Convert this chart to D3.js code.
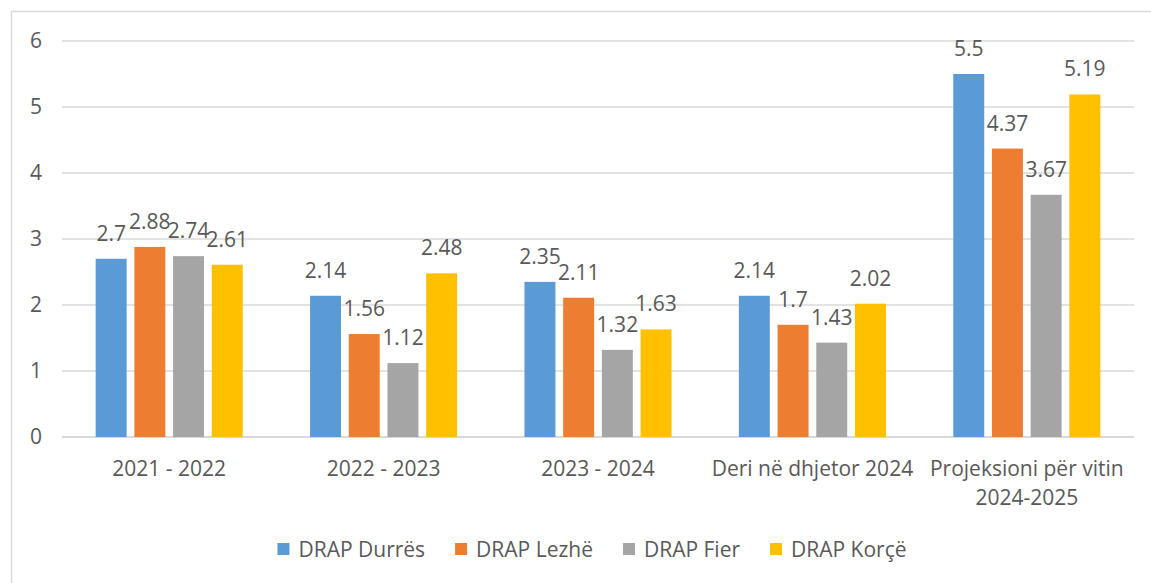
<!DOCTYPE html>
<html>
<head>
<meta charset="utf-8">
<script src="https://cdn.jsdelivr.net/npm/d3@7"></script>
<style>
  html, body { margin: 0; padding: 0; background: #fff; }
  svg text { font-family: "Open Sans", "Liberation Sans", sans-serif; fill: #595959; }
</style>
</head>
<body>
<div id="chart"></div>
<script>
// data
const categories = ["2021 - 2022", "2022 - 2023", "2023 - 2024", "Deri në dhjetor 2024", "Projeksioni për vitin 2024-2025"];
const series = ["DRAP Durrës", "DRAP Lezhë", "DRAP Fier", "DRAP Korçë"];
const durres = [2.7, 2.14, 2.35, 2.14, 5.5];
const lezhe = [2.88, 1.56, 2.11, 1.7, 4.37];
const fier = [2.74, 1.12, 1.32, 1.43, 3.67];
const korce = [2.61, 2.48, 1.63, 2.02, 5.19];
const yTicks = [0, 1, 2, 3, 4, 5, 6];
const colors = ["#5B9BD5", "#ED7D31", "#A5A5A5", "#FFC000"];

const values = [durres, lezhe, fier, korce];
const rows = categories.map((c, i) => ({
  category: c,
  values: series.map((s, j) => ({ key: s, value: values[j][i] }))
}));

// dimensions
const WIDTH = 1151;
const HEIGHT = 583;
const PLOT = { left: 62, right: 1134, top: 41, bottom: 437 };
const FONT = 21;

const $svg = d3.select("#chart").append("svg")
  .attr("width", WIDTH)
  .attr("height", HEIGHT);

// outer frame (only left/top visible in original)
$svg.append("rect")
  .attr("x", 11.5).attr("y", 11.5)
  .attr("width", WIDTH).attr("height", HEIGHT)
  .attr("fill", "none")
  .attr("stroke", "#d9d9d9")
  .attr("stroke-width", 1.5);

// scales
const x0 = d3.scaleBand().domain(categories).range([PLOT.left, PLOT.right]);
const span = x0.bandwidth() * 0.686;
const x1 = d3.scaleBand().domain(series).range([-span / 2, span / 2]).paddingInner(0.2);
const y = d3.scaleLinear().domain([0, 6]).range([PLOT.bottom, PLOT.top]);
const color = d3.scaleOrdinal().domain(series).range(colors);

// gridlines + y labels
const $grid = $svg.append("g").attr("class", "g-grid");
$grid.selectAll("line")
  .data(yTicks)
  .join("line")
  .attr("x1", PLOT.left).attr("x2", PLOT.right)
  .attr("y1", d => y(d)).attr("y2", d => y(d))
  .attr("stroke", "#d9d9d9")
  .attr("stroke-width", d => (d === 0 ? 2 : 1.5));

$grid.selectAll("text")
  .data(yTicks)
  .join("text")
  .attr("x", 42)
  .attr("y", d => y(d))
  .attr("dy", "0.35em")
  .attr("text-anchor", "end")
  .style("font-size", `${FONT}px`)
  .text(d => d);

// bars
const $groups = $svg.append("g").attr("class", "g-vis")
  .selectAll(".group")
  .data(rows)
  .join("g")
  .attr("class", "group")
  .attr("transform", d => `translate(${x0(d.category) + x0.bandwidth() / 2},0)`);

$groups.selectAll("rect")
  .data(d => d.values)
  .join("rect")
  .attr("x", d => x1(d.key))
  .attr("y", d => y(d.value))
  .attr("width", x1.bandwidth())
  .attr("height", d => y(0) - y(d.value))
  .attr("fill", d => color(d.key));

$groups.selectAll("text")
  .data(d => d.values)
  .join("text")
  .attr("x", d => x1(d.key) + x1.bandwidth() / 2)
  .attr("y", d => y(d.value) - 18)
  .attr("text-anchor", "middle")
  .style("font-size", `${FONT}px`)
  .text(d => d.value);

// category labels (wrapped to the band width)
const $xlab = $svg.append("g").attr("class", "g-axis");
categories.forEach(c => {
  const cx = x0(c) + x0.bandwidth() / 2;
  const $t = $xlab.append("text")
    .attr("x", cx)
    .attr("y", 476)
    .attr("text-anchor", "middle")
    .style("font-size", `${FONT}px`);
  const words = c.split(" ");
  let line = [];
  let $span = $t.append("tspan").attr("x", cx);
  words.forEach(w => {
    line.push(w);
    $span.text(line.join(" "));
    if ($span.node().getComputedTextLength() > x0.bandwidth() + 6 && line.length > 1) {
      line.pop();
      $span.text(line.join(" "));
      line = [w];
      $span = $t.append("tspan")
        .attr("x", cx)
        .attr("dy", 29)
        .text(w);
    }
  });
});

// legend
const $legend = $svg.append("g").attr("class", "g-legend");
const items = series.map(s => {
  const $item = $legend.append("g");
  $item.append("rect")
    .attr("x", 0).attr("y", -7)
    .attr("width", 12).attr("height", 12)
    .attr("fill", color(s));
  const $txt = $item.append("text")
    .attr("x", 21).attr("y", 0)
    .attr("dy", "0.35em")
    .style("font-size", `${FONT}px`)
    .text(s);
  return { $item, w: 21 + $txt.node().getComputedTextLength() };
});
const GAP = 30;
const total = d3.sum(items, d => d.w) + GAP * (items.length - 1);
let lx = 592 - total / 2;
items.forEach(d => {
  d.$item.attr("transform", `translate(${lx},550)`);
  lx += d.w + GAP;
});
</script>
</body>
</html>
